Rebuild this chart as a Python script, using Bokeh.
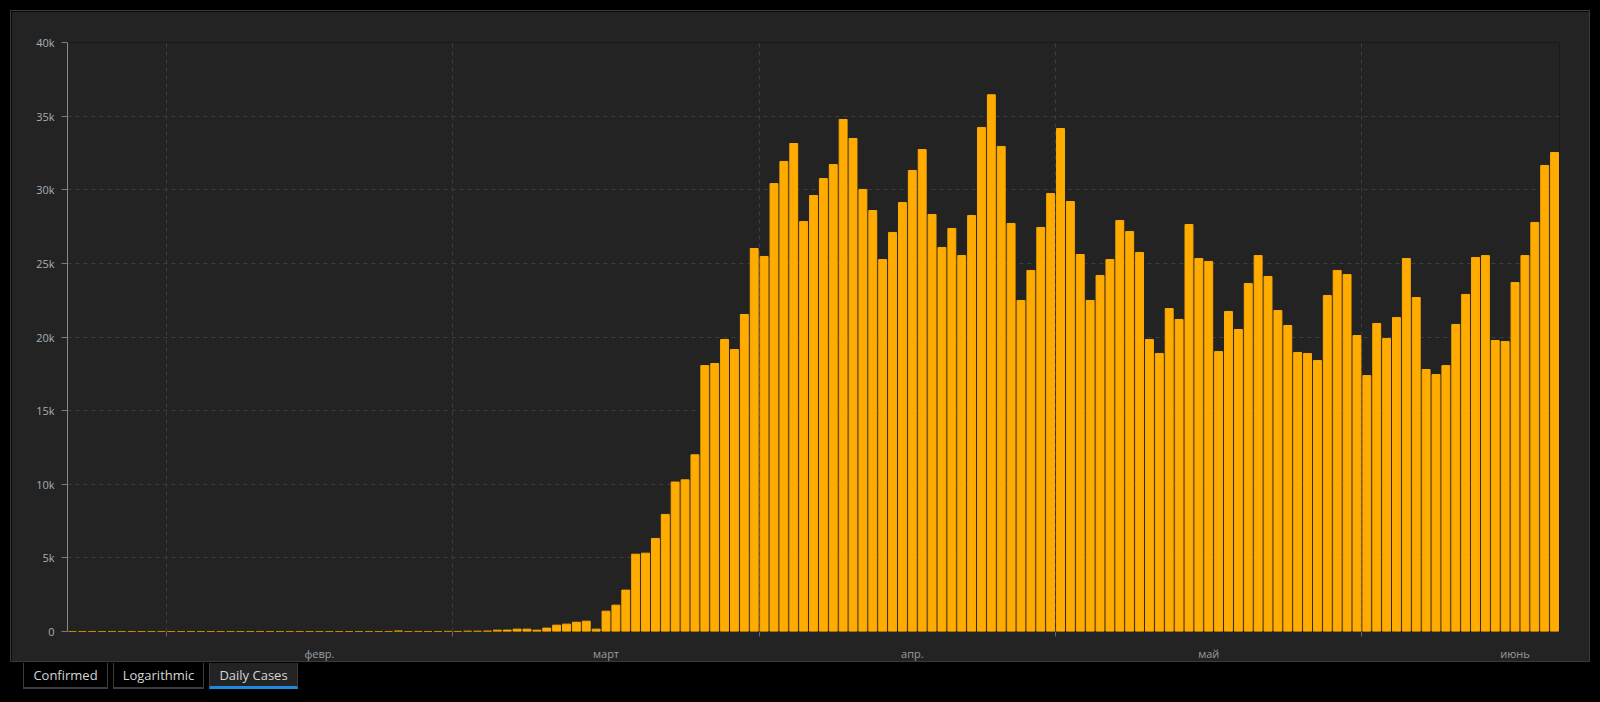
import json
import pandas as pd
from bokeh.plotting import figure
from bokeh.models import Range1d, FixedTicker, CustomJSTickFormatter, Div, ColumnDataSource, Spacer
from bokeh.layouts import column, row
from bokeh.embed import file_html
from bokeh.resources import INLINE

# ---------------- data ----------------
start_date = "2020-01-22"
cases_jan = [1, 0, 1, 0, 3, 0, 0, 0, 0, 2]
cases_feb = [1, 0, 3, 0, 0, 1, 0, 0, 0, 0, 1, 0, 1, 0, 0, 0, 0, 0, 0, 0,
             2, 0, 0, 36, 0, 6, 1, 2, 8]
cases_mar = [6, 23, 20, 31, 90, 95, 160, 160, 90, 230, 430, 500, 630, 700, 160,
             1380, 1790, 2810, 5250, 5320, 6320, 7950, 10150, 10300, 12000,
             18060, 18200, 19830, 19150, 21530, 26010]
cases_apr = [25470, 30420, 31920, 33140, 27840, 29610, 30760, 31710, 34770, 33480,
             30020, 28590, 25260, 27100, 29130, 31310, 32730, 28320, 26080, 27370,
             25530, 28250, 34230, 36450, 32940, 27710, 22480, 24520, 27440, 29740]
cases_may = [34160, 29200, 25600, 22480, 24180, 25260, 27910, 27160, 25740, 19830,
             18880, 21930, 21190, 27640, 25330, 25130, 19010, 21730, 20510, 23630,
             25530, 24110, 21800, 20780, 18950, 18880, 18400, 22820, 24520, 24240, 20100]
cases_jun = [17380, 20920, 19900, 21320, 25330, 22680, 17790, 17450, 18060, 20850,
             22890, 25400, 25530, 19760, 19690, 23700, 25530, 27780, 31650, 32530]
daily_cases = cases_jan + cases_feb + cases_mar + cases_apr + cases_may + cases_jun

month_names = ["янв.", "февр.", "март", "апр.", "май", "июнь"]
month_starts = ["2020-02-01", "2020-03-01", "2020-04-01", "2020-05-01", "2020-06-01"]
y_ticks = [0, 5000, 10000, 15000, 20000, 25000, 30000, 35000, 40000]
tab_labels = ["Confirmed", "Logarithmic", "Daily Cases"]
active_tab = "Daily Cases"

# ---------------- derived ----------------
days = pd.date_range(start_date, periods=len(daily_cases), freq="D")
centers = days + pd.Timedelta(hours=12)
src = ColumnDataSource(dict(x=centers, top=daily_cases))

DAY_MS = 86400000
x_start = pd.Timestamp(start_date)
x_end = days[-1] + pd.Timedelta(days=1)

ms = lambda t: pd.Timestamp(t).value / 1e6
start_ms = [ms(t) for t in month_starts]
label_ms = [ms(pd.Timestamp(t) + pd.Timedelta(days=15, hours=12)) for t in month_starts]

BG = "#232323"
BAR = "#FFAB00"
GRID = "#3d3d3d"
FONT = "Open Sans"

p = figure(width=1580, height=652, x_axis_type="datetime",
           x_range=Range1d(x_start, x_end), y_range=Range1d(0, 40000),
           output_backend="svg", toolbar_location=None,
           background_fill_color=BG, border_fill_color=BG,
           min_border_left=56, min_border_right=32, min_border_top=31,
           min_border_bottom=32)
p.outline_line_color = None

p.vbar(x="x", top="top", bottom=0, width=0.8 * DAY_MS, source=src,
       fill_color=BAR, line_color=BAR, line_width=1)

# y axis
ya = p.yaxis[0]
ya.ticker = FixedTicker(ticks=y_ticks)
ya.formatter = CustomJSTickFormatter(code='return tick == 0 ? "0" : (tick / 1000) + "k";')
ya.axis_line_color = "#8a8a8a"
ya.major_tick_line_color = "#7a7a7a"
ya.major_tick_out = 6
ya.major_tick_in = 0
ya.minor_tick_line_color = None
ya.major_label_standoff = 7
ya.major_label_text_color = "#a9aeb3"
ya.major_label_text_font = FONT
ya.major_label_text_font_size = "11px"

# x axis
xa = p.xaxis[0]
xa.ticker = FixedTicker(ticks=label_ms, minor_ticks=start_ms)
xa.formatter = CustomJSTickFormatter(
    code="const names = %s; const d = new Date(tick); return names[d.getUTCMonth()];"
    % json.dumps(month_names, ensure_ascii=False))
xa.axis_line_color = None
xa.major_tick_line_color = None
xa.major_tick_out = 0
xa.major_tick_in = 0
xa.minor_tick_line_color = "#666666"
xa.minor_tick_out = 5
xa.minor_tick_in = 0
xa.major_label_standoff = 9
xa.major_label_text_color = "#979ca1"
xa.major_label_text_font = FONT
xa.major_label_text_font_size = "11px"

# grids
p.ygrid.ticker = FixedTicker(ticks=y_ticks)
p.ygrid.grid_line_color = GRID
p.ygrid.grid_line_dash = "4 4"
p.xgrid.ticker = FixedTicker(ticks=start_ms)
p.xgrid.grid_line_color = GRID
p.xgrid.grid_line_dash = "4 4"

p.styles = {"border": "1px solid #3a3a3a", "box-sizing": "border-box"}

# tabs
tab_widths = [85, 91, 89]
tab_gaps = [13, 5, 5]
tab_items = []
for label, w, gap in zip(tab_labels, tab_widths, tab_gaps):
    active = label == active_tab
    st = {
        "background-color": BG if active else "#000000",
        "border-left": "1px solid #3c3c3c",
        "border-right": "1px solid #3c3c3c",
        "border-bottom": ("3px solid #1e88e5" if active else "2px solid #3c3c3c"),
        "box-sizing": "border-box",
        "color": "#d4d6d8",
        "font-family": "'Open Sans'",
        "font-size": "13px",
        "text-align": "center",
        "line-height": "24px",
    }
    tab_items.append(Spacer(width=gap, height=26, margin=0))
    tab_items.append(Div(text=label, width=w, height=26, styles=st, margin=0))

tabs_row = row(*tab_items, spacing=0)
inner = column(Spacer(width=10, height=10), p, Spacer(height=1), tabs_row, spacing=0)
layout = row(Spacer(width=10, height=10), inner, spacing=0)

html = file_html(layout, INLINE, title="Daily Cases")
html = html.replace("</head>",
                    "<style>html, body { background: #000; margin: 0; padding: 0; }</style></head>", 1)
open("out.html", "w").write(html)
